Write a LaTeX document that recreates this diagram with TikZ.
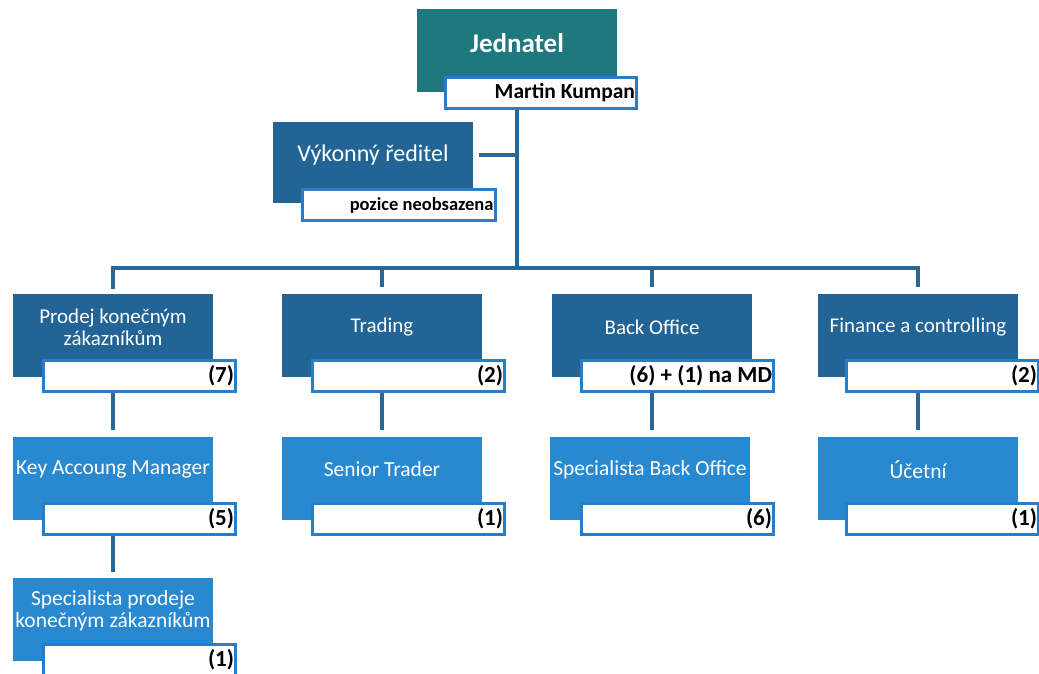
\documentclass[tikz,border=0pt]{standalone}
\usepackage{fontspec}
\setmainfont{Carlito}
\usetikzlibrary{positioning}

\definecolor{headteal}{RGB}{31,120,126}
\definecolor{deptblue}{RGB}{35,100,150}
\definecolor{roleblue}{RGB}{40,136,208}
\definecolor{framblue}{RGB}{42,124,196}
\definecolor{lineblue}{RGB}{40,104,150}

\tikzset{
	head/.style={fill=headteal, text=white, font=\fontsize{27}{31}\selectfont\bfseries, minimum width=200pt, minimum height=69pt, inner sep=0pt},
	dept/.style={fill=deptblue, text=white, font=\fontsize{21}{25}\selectfont, align=center, minimum width=200pt, minimum height=66pt, inner sep=0pt},
	role/.style={fill=roleblue, text=white, font=\fontsize{21.5}{25}\selectfont, align=center, minimum width=200pt, minimum height=65pt, inner sep=0pt},
	count/.style={draw=framblue, line width=3pt, fill=white, font=\fontsize{23}{26}\selectfont\bfseries, minimum height=31pt, text width=189pt, align=flush right, inner xsep=1.5pt, inner ysep=0pt},
	link/.style={draw=lineblue, line width=4pt},
}

\begin{document}
\begin{tikzpicture}[x=1pt, y=-1pt]
	\path[use as bounding box, fill=white] (0,0) rectangle (1039,674);
	
	% Top
	\node[head] (jednatel) at (517,43.5) {Jednatel};
	\fill[headteal] (jednatel.south west) rectangle ([yshift=-14pt]jednatel.south east);
	\node[count, font=\fontsize{21.5}{25}\selectfont\bfseries, text width=188pt] (jednateln) at (541,93) {Martin Kumpan};
	
	\node[dept, font=\fontsize{24}{28}\selectfont] (vykonny) at (373,155.5) {Výkonný ředitel};
	\fill[deptblue] (vykonny.south west) rectangle ([yshift=-14pt]vykonny.south east);
	\node[count, font=\fontsize{18.5}{22}\selectfont\bfseries, text width=190pt] (vykonnyn) at (398.5,205) {pozice neobsazena};
	
	% Departments
	\node[dept] (prodej) at (113,327) {Prodej konečným\\[-3pt] zákazníkům};
	\node[dept] (trading) at (382,327) {Trading};
	\node[dept] (backoffice) at (652,327) {Back Office};
	\node[dept] (finance) at (918,327) {Finance a controlling};
	\foreach \n in {prodej, trading, backoffice, finance}
		\fill[deptblue] (\n.south west) rectangle ([yshift=-17pt]\n.south east);
	\node[count] (prodejn) at (139.5,376) {(7)};
	\node[count] (tradingn) at (408.5,376) {(2)};
	\node[count] (backofficen) at (677.5,376) {(6) + (1) na MD};
	\node[count] (financen) at (942.5,376) {(2)};
	
	% Roles
	\node[role] (key) at (113,469.5) {Key Accoung Manager};
	\node[role] (senior) at (382,469.5) {Senior Trader};
	\node[role] (specbo) at (650,469.5) {Specialista Back Office};
	\node[role] (ucetni) at (918,469.5) {Účetní};
	\node[role] (specprodej) at (113,610.5) {Specialista prodeje\\[-3pt] konečným zákazníkům};
	\foreach \n in {key, senior, specbo, ucetni, specprodej}
		\fill[roleblue] (\n.south west) rectangle ([yshift=-18pt]\n.south east);
	\node[count] (keyn) at (139.5,519) {(5)};
	\node[count] (seniorn) at (408.5,519) {(1)};
	\node[count] (specbon) at (677.5,519) {(6)};
	\node[count] (ucetnin) at (942.5,519) {(1)};
	\node[count] (specprodejn) at (139.5,659.5) {(1)};
	
	% Connectors
	\coordinate (bar) at (517,268);
	\draw[link] (jednatel |- jednateln.south) -- (bar);
	\draw[link, shorten <=6pt] (vykonny.east) -- (vykonny -| bar);
	\draw[link, line cap=rect, shorten >=7pt] (bar) -| (prodej.north);
	\draw[link, shorten >=7pt] (bar) -| (finance.north);
	\draw[link, shorten >=7pt] (bar -| trading) -- (trading.north);
	\draw[link, shorten >=7pt] (bar -| backoffice) -- (backoffice.north);
	
	\draw[link, shorten >=7pt] (prodej |- prodejn.south) -- (key.north);
	\draw[link, shorten >=7pt] (trading |- tradingn.south) -- (senior.north);
	\draw[link, shorten >=7pt] (backoffice |- backofficen.south) -- (backoffice |- specbo.north);
	\draw[link, shorten >=7pt] (finance |- financen.south) -- (ucetni.north);
	\draw[link, shorten >=6pt] (key |- keyn.south) -- (specprodej.north);
\end{tikzpicture}
\end{document}
